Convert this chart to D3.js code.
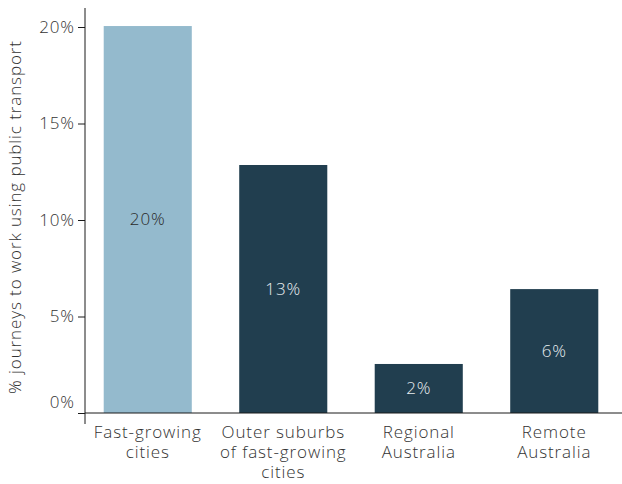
<!DOCTYPE html>
<html>
<head>
<meta charset="utf-8">
<script src="https://cdn.jsdelivr.net/npm/d3@7"></script>
<style>
  body { margin: 0; background: #fff; }
  svg text { font-family: "Open Sans", Lato, sans-serif; font-weight: 300; fill: #333; letter-spacing: 0.9px; }
</style>
</head>
<body>
<div id="chart"></div>
<script>
// data
var categories = [
  ["Fast-growing", "cities"],
  ["Outer suburbs", "of fast-growing", "cities"],
  ["Regional", "Australia"],
  ["Remote", "Australia"]
];
var values = [20.05, 12.85, 2.54, 6.42];
var valueLabels = ["20%", "13%", "2%", "6%"];
var yTicks = [0, 5, 10, 15, 20];

var width = 622, height = 484;
var x0 = 85, yZero = 413;

var svg = d3.select("#chart").append("svg")
  .attr("width", width)
  .attr("height", height);

var x = d3.scaleBand()
  .domain(d3.range(values.length))
  .range([80, 622])
  .paddingInner(0.35)
  .paddingOuter(0.175);

var y = d3.scaleLinear()
  .domain([0, 20])
  .range([yZero, 27]);

// bars
svg.selectAll("rect.bar")
  .data(values)
  .enter().append("rect")
  .attr("class", "bar")
  .attr("x", function(d, i) { return x(i); })
  .attr("width", x.bandwidth())
  .attr("y", function(d) { return y(d); })
  .attr("height", function(d) { return y(0) - y(d); })
  .attr("fill", function(d, i) { return i === 0 ? "#94bacd" : "#213e4f"; });

// value labels
svg.selectAll("text.val")
  .data(values)
  .enter().append("text")
  .attr("class", "val")
  .attr("x", function(d, i) { return x(i) + x.bandwidth() / 2; })
  .attr("y", function(d) { return (y(d) + y(0)) / 2; })
  .attr("dy", "0.35em")
  .attr("text-anchor", "middle")
  .style("font-size", "17px")
  .style("fill", function(d, i) { return i === 0 ? "#2a2a2a" : "#e8edf0"; })
  .text(function(d, i) { return valueLabels[i]; });

// y axis
var yAxis = d3.axisLeft(y)
  .tickValues(yTicks)
  .tickFormat(function(d) { return d + "%"; })
  .tickSize(7)
  .tickPadding(3);

var gy = svg.append("g")
  .attr("transform", "translate(" + x0 + ",0)")
  .call(yAxis);
gy.select(".domain").remove();
gy.selectAll(".tick line").attr("stroke", "#1a1a1a");
gy.selectAll(".tick text")
  .style("font-size", "17px")
  .attr("dy", function(d) { return d === 0 ? "-0.3em" : "0.32em"; });

svg.append("line")
  .attr("x1", x0).attr("x2", x0)
  .attr("y1", 8).attr("y2", 424)
  .attr("stroke", "#1a1a1a");

// x axis
svg.append("line")
  .attr("x1", x0).attr("x2", width)
  .attr("y1", yZero).attr("y2", yZero)
  .attr("stroke", "#1a1a1a");

var xl = svg.selectAll("text.cat")
  .data(categories)
  .enter().append("text")
  .attr("class", "cat")
  .attr("text-anchor", "middle")
  .style("font-size", "17px")
  .attr("transform", function(d, i) { return "translate(" + (x(i) + x.bandwidth() / 2) + ",438)"; });
xl.selectAll("tspan")
  .data(function(d) { return d; })
  .enter().append("tspan")
  .attr("x", 0)
  .attr("y", function(d, j) { return j * 20; })
  .text(function(d) { return d; });

// y title
svg.append("text")
  .attr("transform", "translate(21,217) rotate(-90)")
  .attr("text-anchor", "middle")
  .style("font-size", "17px")
  .text("% journeys to work using public transport");
</script>
</body>
</html>
